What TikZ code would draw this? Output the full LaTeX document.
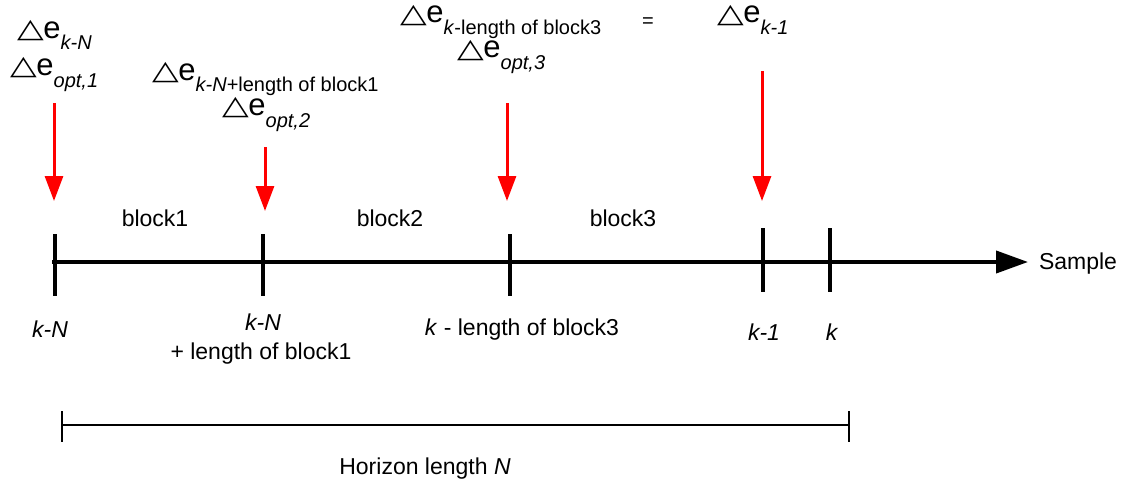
\documentclass[tikz,border=0pt]{standalone}
\usepackage{fontspec}
\setmainfont{Liberation Sans}
\newfontfamily\symf{DejaVu Sans Bold}
\usetikzlibrary{arrows.meta}
\newcommand{\bigf}{\fontsize{31}{31}\selectfont}
\newcommand{\subsc}[1]{\raisebox{-12pt}{\fontsize{20}{20}\selectfont #1}}
\newcommand{\tri}{\raisebox{0.5pt}{\scalebox{1.12}[0.86]{\symf △}}\kern-0.5pt}
\tikzset{
  txt/.style={inner sep=0pt, anchor=base, font=\fontsize{23}{23}\selectfont},
  dlab/.style={inner sep=0pt, anchor=base west, font=\bigf},
  axisline/.style={line width=4pt, -{Triangle[length=32pt,width=22pt]}},
  tickmark/.style={line width=4pt},
  redarrow/.style={line width=3pt, red, -{Triangle[length=25pt,width=18pt]}},
  horiz/.style={line width=1.8pt},
}
\begin{document}
\begin{tikzpicture}[x=1pt,y=-1pt]
\useasboundingbox (0,0) rectangle (1126,487);
% axis
\coordinate (a0) at (52,262);
\coordinate (a1) at (1028,262);
\draw[axisline] (a0) -- (a1);
% ticks
\foreach \n/\x/\t/\b in {t1/55/234/296, t2/263/234/296, t3/510/234/296, t4/763/228/292, t5/830/228/292}{
  \coordinate (\n top) at (\x,\t);
  \coordinate (\n bot) at (\x,\b);
  \draw[tickmark] (\n top) -- (\n bot);
}
% sample
\node[txt] (sample) at (1078,269) {Sample};
% block labels
\node[txt] (b1) at (155,226) {block1};
\node[txt] (b2) at (390,226) {block2};
\node[txt] (b3) at (623,226) {block3};
% bottom labels
\node[txt] (l1) at (50,337) {\textit{k-N}};
\node[txt] (l2a) at (263,330) {\textit{k-N}};
\node[txt] (l2b) at (261,359) {+ length of block1};
\node[txt] (l3) at (522,335) {\textit{k} - length of block3};
\node[txt] (l4) at (764,340) {\textit{k-1}};
\node[txt] (l5) at (832,340) {\textit{k}};
% red arrows
\coordinate (r1s) at (54,103); \coordinate (r1e) at (54,201);
\coordinate (r2s) at (265,147); \coordinate (r2e) at (265,211);
\coordinate (r3s) at (507,103); \coordinate (r3e) at (507,201);
\coordinate (r4s) at (762,71); \coordinate (r4e) at (762,201);
\draw[redarrow] (r1s) -- (r1e);
\draw[redarrow] (r2s) -- (r2e);
\draw[redarrow] (r3s) -- (r3e);
\draw[redarrow] (r4s) -- (r4e);
% delta labels
\node[dlab] (d1a) at (17,38) {\tri e\subsc{\textit{k-N}}};
\node[dlab] (d1b) at (10,75) {\tri e\subsc{\textit{opt,1}}};
\node[dlab] (d2a) at (152,80) {\tri e\subsc{\textit{k-N}+length of block1}};
\node[dlab] (d2b) at (222,115) {\tri e\subsc{\textit{opt,2}}};
\node[dlab] (d3a) at (400,23) {\tri e\subsc{\textit{k}-length of block3}};
\node[dlab] (d3b) at (457,58) {\tri e\subsc{\textit{opt,3}}};
\node[inner sep=0pt, font=\fontsize{20}{20}\selectfont] (eq) at (648,23) {=};
\node[dlab] (d4) at (717,23) {\tri e\subsc{\textit{k-1}}};
% horizon
\coordinate (h0) at (62,425);
\coordinate (h1) at (849,425);
\coordinate (h0t) at (62,411); \coordinate (h0b) at (62,442);
\coordinate (h1t) at (849,411); \coordinate (h1b) at (849,442);
\draw[horiz] (h0) -- (h1);
\draw[horiz] (h0t) -- (h0b);
\draw[horiz] (h1t) -- (h1b);
\node[txt] (hl) at (425,474) {Horizon length \textit{N}};
\end{tikzpicture}
\end{document}
